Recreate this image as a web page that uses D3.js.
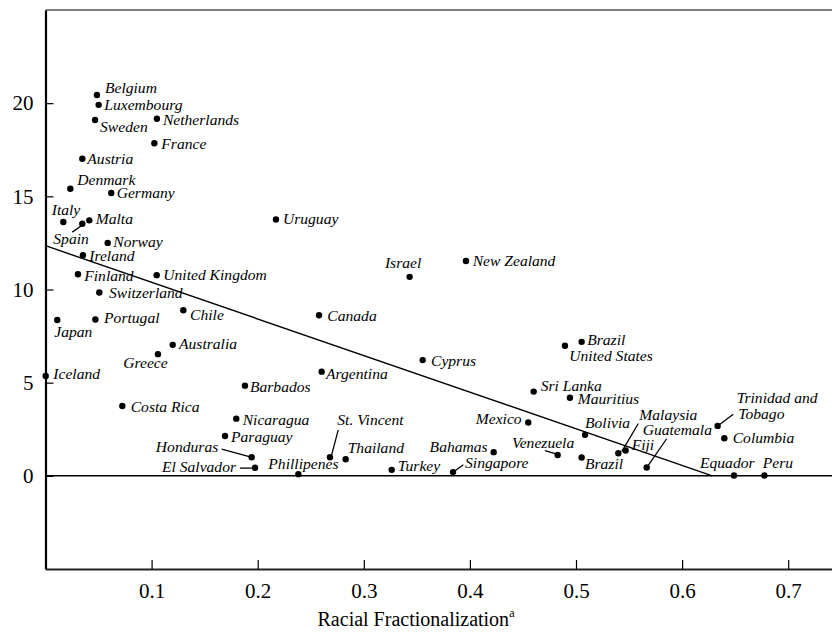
<!DOCTYPE html>
<html>
<head>
<meta charset="utf-8">
<script src="https://cdn.jsdelivr.net/npm/d3@7"></script>
<style>
  html, body { margin: 0; padding: 0; background: #fff; }
  svg { display: block; }
  text { font-family: "Liberation Serif", "Times New Roman", serif; fill: #000; }
</style>
</head>
<body>
<svg id="chart" width="832" height="632"></svg>
<script>
// ---------- DATA ----------
const countries = ["Belgium","Luxembourg","Sweden","Netherlands","France","Austria","Denmark","Germany",
  "Italy","Malta","Spain","Norway","Ireland","Finland","United Kingdom","Switzerland","Chile","Japan",
  "Portugal","Australia","Greece","Iceland","Uruguay","Israel","New Zealand","Canada","Cyprus","Argentina",
  "Costa Rica","Barbados","Nicaragua","Paraguay","Honduras","El Salvador","Phillipenes","St. Vincent",
  "Thailand","Turkey","Singapore","Bahamas","Mexico","Sri Lanka","United States","Brazil","Mauritius",
  "Bolivia","Venezuela","Brazil","Malaysia","Fiji","Guatemala","Trinidad and Tobago","Columbia","Equador","Peru"];

const fractionalization = [0.0485,0.0501,0.0467,0.105,0.1026,0.0347,0.0234,0.062,
  0.0168,0.0413,0.0347,0.0586,0.0353,0.0306,0.1048,0.0507,0.1299,0.0111,
  0.047,0.1199,0.106,0.0002,0.2172,0.3432,0.3963,0.2578,0.3555,0.2603,
  0.0724,0.188,0.1798,0.1692,0.1943,0.1975,0.2383,0.2681,
  0.2829,0.3263,0.3841,0.4224,0.455,0.4601,0.4896,0.5053,0.4943,
  0.5085,0.4827,0.5053,0.5399,0.5468,0.5666,0.6335,0.6398,0.6489,0.6775];

const values = [20.44,19.91,19.10,19.16,17.85,17.02,15.41,15.18,
  13.62,13.71,13.53,12.50,11.84,10.82,10.77,9.84,8.89,8.36,
  8.39,7.03,6.53,5.36,13.76,10.68,11.53,8.62,6.21,5.59,
  3.75,4.84,3.07,2.14,1.00,0.43,0.09,1.00,
  0.89,0.32,0.20,1.27,2.86,4.52,6.98,7.19,4.19,
  2.20,1.12,0.98,1.21,1.36,0.45,2.68,2.02,0.02,0.02];

const xTicks = [0.1,0.2,0.3,0.4,0.5,0.6,0.7];
const yTicks = [0,5,10,15,20];
const xTitle = "Racial Fractionalization";
const xTitleSup = "a";

// fitted line: value = intercept + slope * fractionalization
const fitIntercept = 12.35;
const fitSlope = -19.65;

// ---------- LABEL PLACEMENT (pixel offsets from each dot) ----------
// [anchor, dx, dy, leader(optional: [x1,y1,x2,y2])]
const labelPlacement = [
  ["start",8,-2],["start",5.6,4.7],["start",5,11.7],["start",6,5.7],["start",7,5.7],["start",5,5],
  ["start",7,-4],["start",5.4,4.6],
  ["start",-11.6,-6.7],["start",6.4,4],["start",-29,20.7,[-10,8.4,-0.6,1.7]],["start",5.6,4],
  ["start",6.3,5.7],["start",6.3,6.7],["start",6.6,5],["start",9.7,6],["start",6.7,10],["start",-3,17.3],
  ["start",8.7,4],["start",6.3,4.3],["end",9.7,13.7],["start",7.6,3],["start",7,5],["start",-24.7,-8.4],
  ["start",6.7,5.3],["start",8.3,5.7],["start",8.3,5.7],["start",4.3,7.6],
  ["start",8.4,6.3],["start",5,6.6],["start",6.4,6.3],["start",6,6.3],
  ["end",-33.4,-5.6,[-30,-8,-2.4,-0.6]],["end",-19,3.7,[-15,0.3,-2.7,0.3]],["start",-30,-5],
  ["start",7.3,-32.3,[8.3,-27.3,1.7,-2.3]],
  ["start",2,-6],["start",6,0.7],["start",12,-4,[10.3,-7.3,1,-0.6]],["end",-6,-0.6],["end",-6.6,1.3],
  ["start",7,-0.7],["start",4.3,15.6],["start",5.6,3.4],["start",7.7,6.3],
  ["start",0,-6.7],["end",16.6,-6.7,[-12.7,-4.3,-1.7,-1]],["start",3.3,11.6],
  ["start",21,-33.5,[20,-29.8,3.4,-1.6]],["start",6,-0.4],["start",-4,-32,[20,-28.7,1.6,-2]],
  ["start",19,-22.7,[15.6,-11.7,2.3,-1.7]],["start",8.4,4.4],["start",-34,-7.4],["start",-1.6,-7.4]
];

// ---------- CHART ----------
const svg = d3.select("#chart");
const x = d3.scaleLinear().domain([0, 0.75]).range([45.5, 841.25]);
const y = d3.scaleLinear().domain([-5, 25]).range([569, 10]);

const W = 832;

// top frame line
svg.append("line")
  .attr("x1", x(0)).attr("x2", W)
  .attr("y1", y(25)).attr("y2", y(25))
  .attr("stroke", "#555").attr("stroke-width", 1.5);

// x axis (bottom)
const xAxis = svg.append("g")
  .attr("transform", `translate(0,${y(-5)})`)
  .call(d3.axisBottom(x).tickValues(xTicks).tickFormat(d3.format(".1f"))
        .tickSizeInner(-9).tickSizeOuter(0).tickPadding(14));
xAxis.select(".domain").attr("stroke", "#222").attr("stroke-width", 2);
xAxis.selectAll(".tick line").attr("stroke", "#000").attr("stroke-width", 1.2);
xAxis.selectAll(".tick text").style("font-family", '"Liberation Serif", serif')
  .style("font-size", "21px").attr("fill", "#000");

// y axis (left)
const yAxis = svg.append("g")
  .attr("transform", `translate(${x(0)},0)`)
  .call(d3.axisLeft(y).tickValues(yTicks).tickFormat(d3.format("d"))
        .tickSizeInner(-8).tickSizeOuter(0).tickPadding(12));
yAxis.select(".domain").attr("stroke", "#000").attr("stroke-width", 2.2);
yAxis.selectAll(".tick line").attr("stroke", "#000").attr("stroke-width", 1.2);
yAxis.selectAll(".tick text").style("font-family", '"Liberation Serif", serif')
  .style("font-size", "21px").attr("fill", "#000");

// zero line
svg.append("line")
  .attr("x1", x(0)).attr("x2", W)
  .attr("y1", y(0)).attr("y2", y(0))
  .attr("stroke", "#000").attr("stroke-width", 1.5);

// fitted line from x=0 to where it meets zero
const xEnd = -fitIntercept / fitSlope;
svg.append("line")
  .attr("x1", x(0)).attr("y1", y(fitIntercept))
  .attr("x2", x(xEnd)).attr("y2", y(fitIntercept + fitSlope * xEnd))
  .attr("stroke", "#000").attr("stroke-width", 1.4);

// data rows
const rows = countries.map((c, i) => ({ name: c, fx: fractionalization[i], v: values[i], p: labelPlacement[i] }));

// leader lines
svg.append("g").selectAll("line")
  .data(rows.filter(d => d.p[3]))
  .join("line")
  .attr("x1", d => x(d.fx) + d.p[3][0]).attr("y1", d => y(d.v) + d.p[3][1])
  .attr("x2", d => x(d.fx) + d.p[3][2]).attr("y2", d => y(d.v) + d.p[3][3])
  .attr("stroke", "#000").attr("stroke-width", 1.3);

// dots
svg.append("g").selectAll("circle")
  .data(rows)
  .join("circle")
  .attr("cx", d => x(d.fx)).attr("cy", d => y(d.v))
  .attr("r", 3.2).attr("fill", "#000");

// labels
const lab = svg.append("g").selectAll("text")
  .data(rows)
  .join("text")
  .attr("x", d => x(d.fx) + d.p[1])
  .attr("y", d => y(d.v) + d.p[2])
  .attr("text-anchor", d => d.p[0])
  .style("font-style", "italic")
  .style("font-size", "15.6px");

lab.each(function(d) {
  const t = d3.select(this);
  if (d.name === "Trinidad and Tobago") {
    t.append("tspan").text("Trinidad and");
    t.append("tspan").attr("x", x(d.fx) + d.p[1] + 1.6).attr("dy", 16).text("Tobago");
  } else {
    t.text(d.name);
  }
});

// x title
const title = svg.append("text")
  .attr("x", 416).attr("y", 626)
  .attr("text-anchor", "middle")
  .style("font-size", "20px");
title.append("tspan").text(xTitle);
title.append("tspan").attr("dy", -9).style("font-size", "12px").text(xTitleSup);
</script>
</body>
</html>
